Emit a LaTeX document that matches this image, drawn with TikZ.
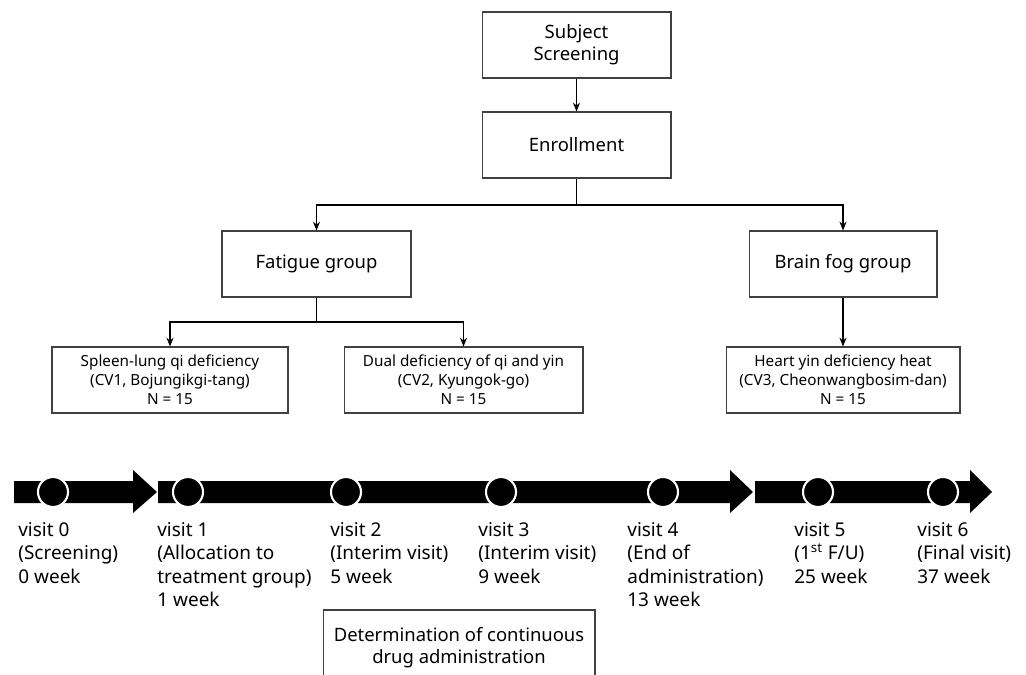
\documentclass[tikz,border=0pt]{standalone}
\usepackage{fontspec}
\setmainfont{Noto Sans}
\usetikzlibrary{arrows.meta}

\tikzset{
	box/.style={draw=black!75, line width=0.6pt, align=center, minimum height=1.32cm, inner sep=0pt, font=\fontsize{10.5}{12.5}\selectfont},
	smallbox/.style={draw=black!75, line width=0.6pt, align=center, minimum height=1.32cm, inner sep=0pt, font=\fontsize{8.7}{10.8}\selectfont},
	link/.style={line width=1pt, -{Stealth[length=5pt,width=4pt]}},
	trunk/.style={line width=1pt},
	visitdot/.style={circle, fill=black, draw=white, line width=1.2pt, minimum size=0.6cm, inner sep=0pt},
	visitlabel/.style={anchor=north west, align=left, inner sep=0pt, font=\fontsize{10.8}{13.4}\selectfont}
}

\begin{document}
\begin{tikzpicture}[x=0.02cm, y=-0.02cm]
		%%%%% START %%%%%
		\useasboundingbox (0, 0) rectangle (1026, 675);
		\clip (0, 0) rectangle (1026, 675);
		
		% flow chart
		\node[box, minimum width=3.78cm] (subj) at (576.5, 45) {Subject\\Screening};
		\node[box, minimum width=3.78cm] (enr) at (576.5, 145) {Enrollment};
		\node[box, minimum width=3.78cm] (fat) at (316.5, 264) {Fatigue group};
		\node[box, minimum width=3.76cm] (fog) at (843, 264) {Brain fog group};
		
		\node[smallbox, minimum width=4.72cm] (cv1) at (170, 380) {Spleen-lung qi deficiency\\(CV1, Bojungikgi-tang)\\N = 15};
		\node[smallbox, minimum width=4.78cm] (cv2) at (463.5, 380) {Dual deficiency of qi and yin\\(CV2, Kyungok-go)\\N = 15};
		\node[smallbox, minimum width=4.68cm] (cv3) at (843, 380) {Heart yin deficiency heat\\(CV3, Cheonwangbosim-dan)\\N = 15};
		
		\coordinate (split) at (576.5, 205);
		\coordinate (split2) at (316.5, 322);
		
		\draw[link] (subj) -- (enr);
		\draw[trunk] (enr) -- (split);
		\draw[link] (split) -| (fat);
		\draw[link] (split) -| (fog);
		\draw[trunk] (fat) -- (split2);
		\draw[link] (split2) -| (cv1);
		\draw[link] (split2) -| (cv2);
		\draw[link] (fog) -- (cv3);
		
		% time line
		\fill (14, 481) -- (133, 481) -- (133, 470) -- (157, 492) -- (133, 513) -- (133, 503) -- (14, 503) -- cycle;
		\fill (158, 481) -- (730, 481) -- (730, 470) -- (753, 492) -- (730, 513) -- (730, 503) -- (158, 503) -- cycle;
		\fill (755, 481) -- (970, 481) -- (970, 470) -- (992, 492) -- (970, 513) -- (970, 503) -- (755, 503) -- cycle;
		
		\node[visitdot] (v0) at (53, 492) {};
		\node[visitdot] (v1) at (188, 492) {};
		\node[visitdot] (v2) at (346, 492) {};
		\node[visitdot] (v3) at (501, 492) {};
		\node[visitdot] (v4) at (663, 492) {};
		\node[visitdot] (v5) at (818, 492) {};
		\node[visitdot] (v6) at (943, 492) {};
		
		\node[visitlabel] (l0) at (18, 522) {visit 0\\(Screening)\\0 week};
		\node[visitlabel] (l1) at (157, 522) {visit 1\\(Allocation to\\treatment group)\\1 week};
		\node[visitlabel] (l2) at (330, 522) {visit 2\\(Interim visit)\\5 week};
		\node[visitlabel] (l3) at (478, 522) {visit 3\\(Interim visit)\\9 week};
		\node[visitlabel] (l4) at (627, 522) {visit 4\\(End of\\administration)\\13 week};
		\node[visitlabel] (l5) at (794, 522) {visit 5\\(1\textsuperscript{st} F/U)\\25 week};
		\node[visitlabel] (l6) at (917, 522) {visit 6\\(Final visit)\\37 week};
		
		\node[box, minimum width=5.44cm, minimum height=1.52cm] (det) at (459, 648) {Determination of continuous\\drug administration};
		%%%%% END %%%%%
\end{tikzpicture}
\end{document}
